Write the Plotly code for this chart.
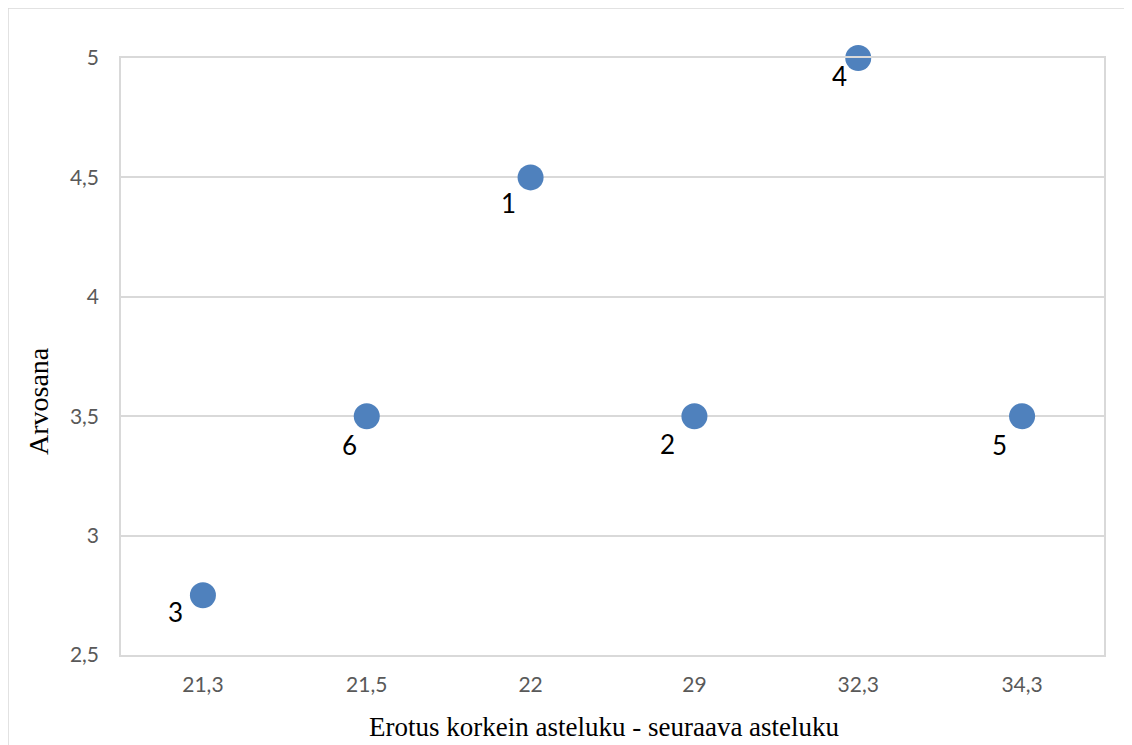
import plotly.graph_objects as go

categories = ["21,3", "21,5", "22", "29", "32,3", "34,3"]
grades = [2.75, 3.5, 4.5, 3.5, 5, 3.5]
point_labels = ["3", "6", "1", "2", "4", "5"]
y_ticks = [2.5, 3, 3.5, 4, 4.5, 5]
y_tick_text = ["2,5", "3", "3,5", "4", "4,5", "5"]

# label placement (pixel offsets from each marker), styling only
label_dx = [-27, -17, -22, -27, -19, -23]
label_dy = [17, 29, 26, 28, 18, 29]

W, H = 1132, 745
L, R, T, B = 113, 36, 50, 98
pw, ph = W - L - R, H - T - B

fig = go.Figure()
fig.add_trace(go.Scatter(
    x=categories, y=grades, mode="markers",
    marker=dict(size=26, color="#4f81bd"),
    cliponaxis=False, showlegend=False,
))

annotations = [
    dict(x=i, y=v, text=t, showarrow=False, xref="x", yref="y",
         xshift=dx, yshift=-dy,
         font=dict(family="Lato", size=26, color="#000000"))
    for i, (v, t, dx, dy) in enumerate(zip(grades, point_labels, label_dx, label_dy))
]

title_font = dict(family="Liberation Serif", color="#000000")
annotations.append(dict(
    text="Erotus korkein asteluku - seuraava asteluku", showarrow=False,
    xref="paper", yref="paper", x=(596 - L) / pw, y=1 - (719 - T) / ph,
    xanchor="center", yanchor="middle", font=dict(size=27, **title_font)))
annotations.append(dict(
    text="Arvosana", showarrow=False, textangle=-90,
    xref="paper", yref="paper", x=(30 - L) / pw, y=1 - (393 - T) / ph,
    xanchor="center", yanchor="middle", font=dict(size=28, **title_font)))

grid = "#d9d9d9"
fig.update_layout(
    width=W, height=H,
    margin=dict(l=L, r=R, t=T, b=B),
    paper_bgcolor="white", plot_bgcolor="white",
    annotations=annotations,
    xaxis=dict(
        type="category", range=[-0.5, 5.5],
        showgrid=False, showline=True, linecolor=grid, linewidth=1.5, mirror=True,
        ticks="", zeroline=False, ticklabelstandoff=10,
        tickfont=dict(family="Lato", size=21, color="#595959"),
    ),
    yaxis=dict(
        range=[2.5, 5], tickvals=y_ticks, ticktext=y_tick_text,
        showgrid=True, gridcolor=grid, gridwidth=1.5,
        showline=True, linecolor=grid, linewidth=1.5, mirror=True,
        ticks="", zeroline=False, ticklabelstandoff=16,
        tickfont=dict(family="Lato", size=21, color="#595959"),
    ),
    shapes=[dict(
        type="rect", xref="paper", yref="paper",
        x0=(0 - L) / pw, x1=(W + 10 - L) / pw,
        y0=-(H + 10 - T - ph) / ph, y1=1 + T / ph,
        line=dict(color=grid, width=1.5), fillcolor="rgba(0,0,0,0)", layer="below",
    )],
)

fig.write_html("out.html")
